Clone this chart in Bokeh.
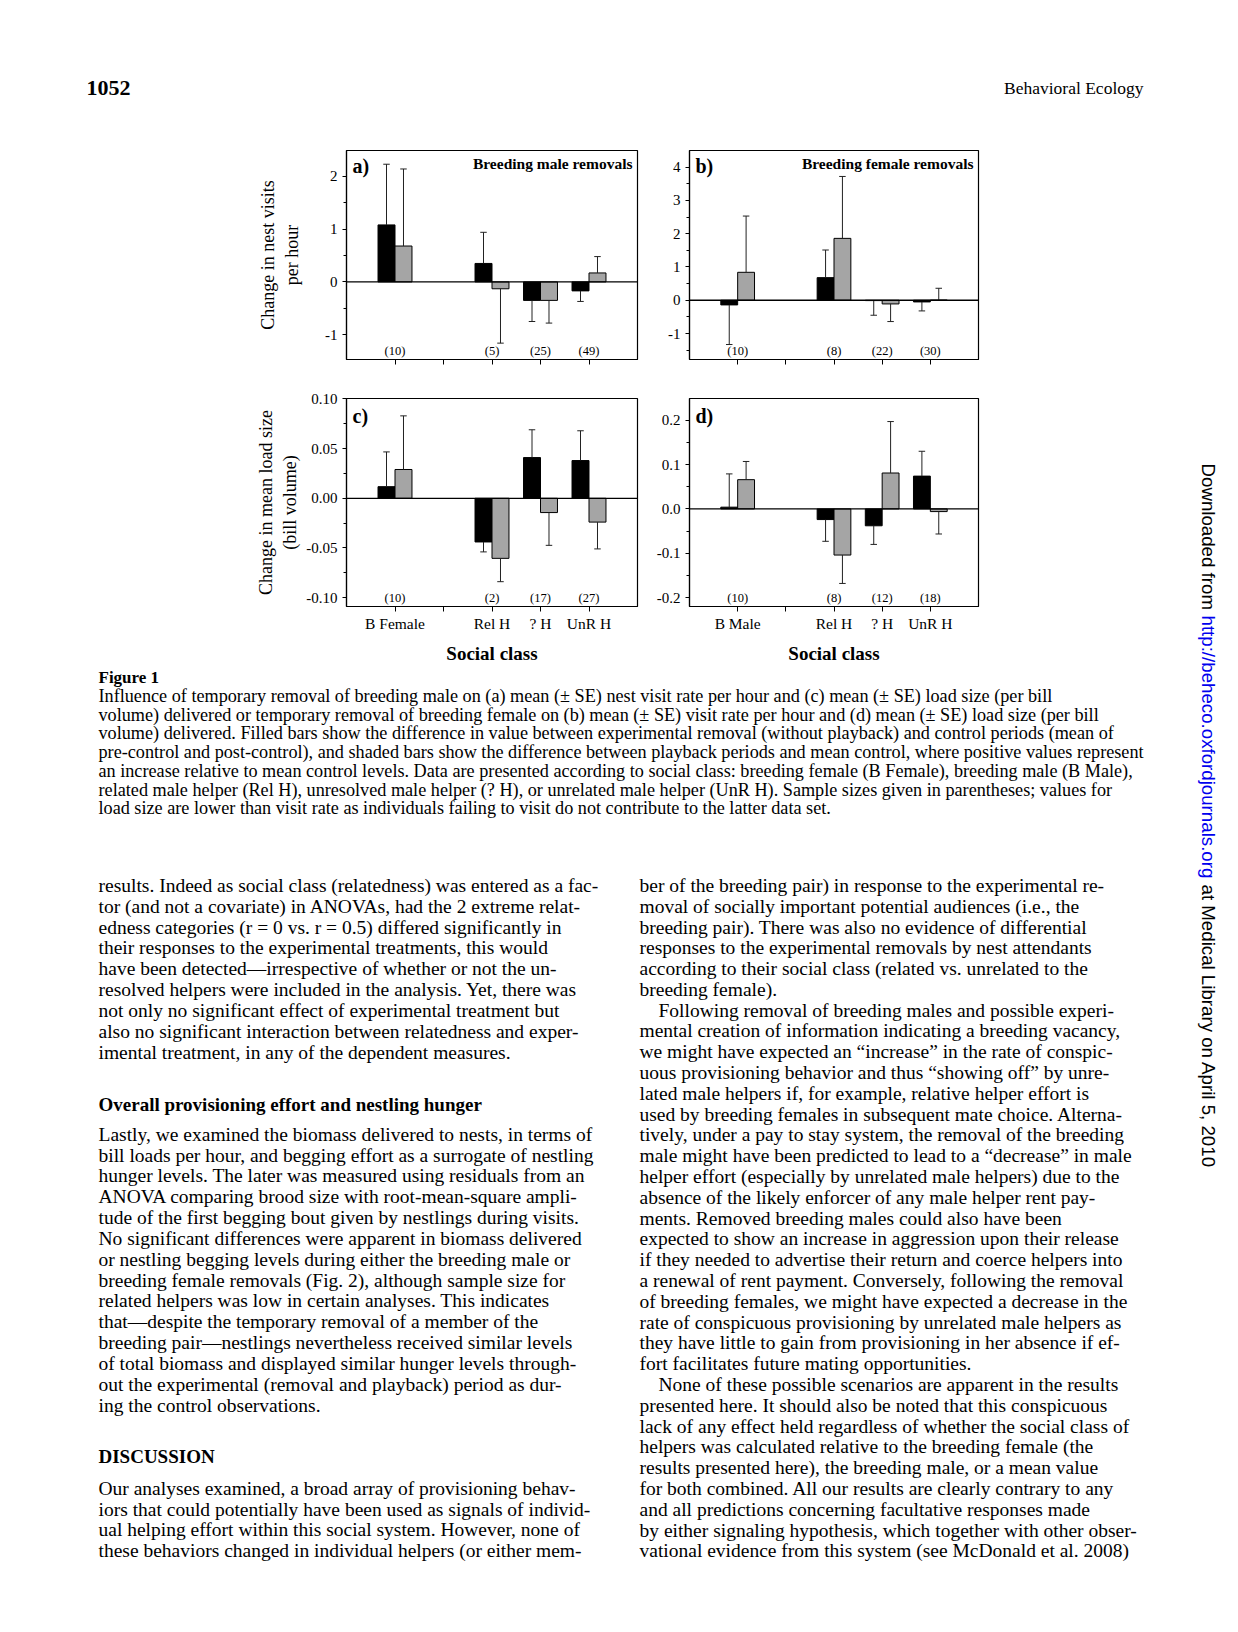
import math
from bokeh.plotting import figure
from bokeh.layouts import row, column
from bokeh.models import Range1d, FixedTicker, NumeralTickFormatter, Span
from bokeh.core.properties import value
from bokeh.embed import file_html
from bokeh.resources import INLINE

SERIF = "Liberation Serif"
SANS = "Liberation Sans"
GRAY = "#a5a5a5"

# ---------------------------------------------------------------- data
classes_male_removal = ["B Female", "Rel H", "? H", "UnR H"]
classes_female_removal = ["B Male", "Rel H", "? H", "UnR H"]

# (a) change in nest visits per hour - breeding male removals
a_removal = [1.08, 0.35, -0.35, -0.17]
a_removal_se = [1.15, 0.59, 0.40, 0.20]
a_playback = [0.68, -0.13, -0.35, 0.17]
a_playback_se = [1.46, 1.03, 0.43, 0.31]
a_n = [10, 5, 25, 49]

# (b) change in nest visits per hour - breeding female removals
b_removal = [-0.14, 0.68, -0.01, -0.05]
b_removal_se = [1.19, 0.83, 0.44, 0.27]
b_playback = [0.84, 1.86, -0.11, 0.005]
b_playback_se = [1.69, 1.86, 0.53, 0.355]
b_n = [10, 8, 22, 30]

# (c) change in mean load size - breeding male removals
c_removal = [0.0117, -0.044, 0.041, 0.038]
c_removal_se = [0.035, 0.010, 0.028, 0.030]
c_playback = [0.029, -0.0605, -0.0144, -0.024]
c_playback_se = [0.054, 0.0235, 0.033, 0.027]
c_n = [10, 2, 17, 27]

# (d) change in mean load size - breeding female removals
d_removal = [0.004, -0.024, -0.038, 0.074]
d_removal_se = [0.075, 0.049, 0.042, 0.056]
d_playback = [0.066, -0.104, 0.081, -0.006]
d_playback_se = [0.041, 0.064, 0.116, 0.0505]
d_n = [10, 8, 12, 18]

# ---------------------------------------------------------------- page text
header_left = "1052"
header_right = "Behavioral Ecology"
caption_title = "Figure 1"
caption_lines = [
    "Influence of temporary removal of breeding male on (a) mean (\u00b1 SE) nest visit rate per hour and (c) mean (\u00b1 SE) load size (per bill",
    "volume) delivered or temporary removal of breeding female on (b) mean (\u00b1 SE) visit rate per hour and (d) mean (\u00b1 SE) load size (per bill",
    "volume) delivered. Filled bars show the difference in value between experimental removal (without playback) and control periods (mean of",
    "pre-control and post-control), and shaded bars show the difference between playback periods and mean control, where positive values represent",
    "an increase relative to mean control levels. Data are presented according to social class: breeding female (B Female), breeding male (B Male),",
    "related male helper (Rel H), unresolved male helper (? H), or unrelated male helper (UnR H). Sample sizes given in parentheses; values for",
    "load size are lower than visit rate as individuals failing to visit do not contribute to the latter data set.",
]
left_block1 = [
    "results. Indeed as social class (relatedness) was entered as a fac-",
    "tor (and not a covariate) in ANOVAs, had the 2 extreme relat-",
    "edness categories (r = 0 vs. r = 0.5) differed significantly in",
    "their responses to the experimental treatments, this would",
    "have been detected\u2014irrespective of whether or not the un-",
    "resolved helpers were included in the analysis. Yet, there was",
    "not only no significant effect of experimental treatment but",
    "also no significant interaction between relatedness and exper-",
    "imental treatment, in any of the dependent measures.",
]
heading1 = "Overall provisioning effort and nestling hunger"
left_block2 = [
    "Lastly, we examined the biomass delivered to nests, in terms of",
    "bill loads per hour, and begging effort as a surrogate of nestling",
    "hunger levels. The later was measured using residuals from an",
    "ANOVA comparing brood size with root-mean-square ampli-",
    "tude of the first begging bout given by nestlings during visits.",
    "No significant differences were apparent in biomass delivered",
    "or nestling begging levels during either the breeding male or",
    "breeding female removals (Fig. 2), although sample size for",
    "related helpers was low in certain analyses. This indicates",
    "that\u2014despite the temporary removal of a member of the",
    "breeding pair\u2014nestlings nevertheless received similar levels",
    "of total biomass and displayed similar hunger levels through-",
    "out the experimental (removal and playback) period as dur-",
    "ing the control observations.",
]
heading2 = "DISCUSSION"
left_block3 = [
    "Our analyses examined, a broad array of provisioning behav-",
    "iors that could potentially have been used as signals of individ-",
    "ual helping effort within this social system. However, none of",
    "these behaviors changed in individual helpers (or either mem-",
]
right_lines = [
    "ber of the breeding pair) in response to the experimental re-",
    "moval of socially important potential audiences (i.e., the",
    "breeding pair). There was also no evidence of differential",
    "responses to the experimental removals by nest attendants",
    "according to their social class (related vs. unrelated to the",
    "breeding female).",
    "Following removal of breeding males and possible experi-",
    "mental creation of information indicating a breeding vacancy,",
    "we might have expected an \u201cincrease\u201d in the rate of conspic-",
    "uous provisioning behavior and thus \u201cshowing off\u201d by unre-",
    "lated male helpers if, for example, relative helper effort is",
    "used by breeding females in subsequent mate choice. Alterna-",
    "tively, under a pay to stay system, the removal of the breeding",
    "male might have been predicted to lead to a \u201cdecrease\u201d in male",
    "helper effort (especially by unrelated male helpers) due to the",
    "absence of the likely enforcer of any male helper rent pay-",
    "ments. Removed breeding males could also have been",
    "expected to show an increase in aggression upon their release",
    "if they needed to advertise their return and coerce helpers into",
    "a renewal of rent payment. Conversely, following the removal",
    "of breeding females, we might have expected a decrease in the",
    "rate of conspicuous provisioning by unrelated male helpers as",
    "they have little to gain from provisioning in her absence if ef-",
    "fort facilitates future mating opportunities.",
    "None of these possible scenarios are apparent in the results",
    "presented here. It should also be noted that this conspicuous",
    "lack of any effect held regardless of whether the social class of",
    "helpers was calculated relative to the breeding female (the",
    "results presented here), the breeding male, or a mean value",
    "for both combined. All our results are clearly contrary to any",
    "and all predictions concerning facultative responses made",
    "by either signaling hypothesis, which together with other obser-",
    "vational evidence from this system (see McDonald et al. 2008)",
]
right_indented = [6, 24]
side_pieces = ["Downloaded from", "http://beheco.oxfordjournals.org", "at Medical Library on April 5, 2010"]

# ---------------------------------------------------------------- panels
SLOTS = [0, 2, 3, 4]      # x slot of each social class (gap after the breeding bird)
BW = 0.35                 # bar width in slot units


def style_axis(ax, size="15px"):
    ax.axis_line_color = "black"
    ax.axis_line_width = 1.2
    ax.major_tick_line_color = "black"
    ax.minor_tick_line_color = "black"
    ax.major_tick_in = 0
    ax.minor_tick_in = 0
    ax.major_label_text_font = SERIF
    ax.major_label_text_font_size = size
    ax.major_label_text_color = "black"
    ax.axis_label_text_font = SERIF
    ax.axis_label_text_color = "black"
    ax.axis_label_text_font_style = "normal"


def panel(letter, title, classes, rem, rem_se, pb, pb_se, n, ylo, yhi,
          major, minor, fmt, ylabel=None, ylabel_standoff=5, xlabels=False,
          left=346, right=11, fw=291, fh=209, top=20, bottom=19, letter_dy=15.5):
    p = figure(frame_width=fw, frame_height=fh,
               min_border_left=left, min_border_right=right,
               min_border_top=top, min_border_bottom=bottom,
               x_range=Range1d(-1, 5), y_range=Range1d(ylo, yhi),
               output_backend="svg", toolbar_location=None)
    p.xgrid.visible = False
    p.ygrid.visible = False
    p.outline_line_color = "black"
    p.outline_line_width = 1.2
    p.background_fill_color = "white"

    xs_rem = [s - BW / 2 for s in SLOTS]
    xs_pb = [s + BW / 2 for s in SLOTS]
    p.vbar(x=xs_rem, top=rem, bottom=0, width=BW, fill_color="black",
           line_color="black", line_width=1)
    p.vbar(x=xs_pb, top=pb, bottom=0, width=BW, fill_color=GRAY,
           line_color="black", line_width=1)

    for xs, vals, ses in ((xs_rem, rem, rem_se), (xs_pb, pb, pb_se)):
        ends = [v + (s if v >= 0 else -s) for v, s in zip(vals, ses)]
        p.segment(x0=xs, y0=vals, x1=xs, y1=ends, line_color="#222222", line_width=1)
        p.scatter(x=xs, y=ends, marker="dash", size=6.5, line_color="#222222", line_width=1)

    p.add_layout(Span(location=0, dimension="width", line_color="black", line_width=1.3))

    yspan = yhi - ylo
    # sample sizes along the bottom of the frame
    p.text(x=SLOTS, y=[ylo + yspan * 8.5 / fh] * len(SLOTS),
           text=["(%d)" % k for k in n], text_align="center", text_baseline="middle",
           text_font=value(SERIF), text_font_size="12.5px", text_color="black")
    # panel letter and title
    p.text(x=[-1 + 6 * 6.0 / fw], y=[yhi - yspan * letter_dy / fh],
           text=[letter], text_align="left", text_baseline="middle",
           text_font=value(SERIF), text_font_size="20px", text_font_style="bold",
           text_color="black")
    if title:
        p.text(x=[5 - 6 * 5.0 / fw], y=[yhi - yspan * 12.7 / fh], text=[title],
               text_align="right", text_baseline="middle", text_font=value(SERIF),
               text_font_size="15.5px", text_font_style="bold", text_color="black")

    yax = p.yaxis[0]
    xax = p.xaxis[0]
    style_axis(yax)
    style_axis(xax, "15.5px")
    yax.ticker = FixedTicker(ticks=major, minor_ticks=minor)
    yax.major_tick_out = 4
    yax.minor_tick_out = 3
    yax.major_label_standoff = 5
    yax.formatter = NumeralTickFormatter(format=fmt)
    if ylabel:
        yax.axis_label = ylabel
        yax.axis_label_text_font_size = "18px"
        yax.axis_label_standoff = ylabel_standoff

    xax.ticker = FixedTicker(ticks=[0, 1, 2, 3, 4])
    xax.major_tick_out = 5
    xax.minor_tick_out = 0
    if xlabels:
        over = {0: "", 1: "", 2: "", 3: "", 4: ""}
        for s, c in zip(SLOTS, classes):
            over[s] = c
        xax.major_label_overrides = over
        xax.major_label_standoff = 3
        xax.axis_label = "Social class"
        xax.axis_label_text_font_size = "19px"
        xax.axis_label_text_font_style = "bold"
        xax.axis_label_standoff = 8
    else:
        xax.major_label_overrides = {0: "", 1: "", 2: "", 3: "", 4: ""}
        xax.major_label_text_font_size = "0px"
        xax.major_label_standoff = 0
    return p


fa = panel("a)", "Breeding male removals", classes_male_removal,
           a_removal, a_removal_se, a_playback, a_playback_se, a_n,
           -1.47, 2.49, [-1, 0, 1, 2], [-0.5, 0.5, 1.5], "0",
           ylabel="Change in nest visits\nper hour", ylabel_standoff=20)
fb = panel("b)", "Breeding female removals", classes_female_removal,
           b_removal, b_removal_se, b_playback, b_playback_se, b_n,
           -1.78, 4.5, [-1, 0, 1, 2, 3, 4], [-1.5, -0.5, 0.5, 1.5, 2.5, 3.5], "0",
           left=41, right=176, fw=289)
fc = panel("c)", None, classes_male_removal,
           c_removal, c_removal_se, c_playback, c_playback_se, c_n,
           -0.109, 0.1005, [-0.10, -0.05, 0.0, 0.05, 0.10], [-0.075, -0.025, 0.025, 0.075], "0.00",
           ylabel="Change in mean load size\n(bill volume)", ylabel_standoff=3,
           xlabels=True, fh=208, bottom=58, letter_dy=17)
fd = panel("d)", None, classes_female_removal,
           d_removal, d_removal_se, d_playback, d_playback_se, d_n,
           -0.22, 0.249, [-0.2, -0.1, 0.0, 0.1, 0.2], [-0.15, -0.05, 0.05, 0.15], "0.0",
           xlabels=True, left=41, right=176, fw=289, fh=208, bottom=58, letter_dy=17)


# ---------------------------------------------------------------- text figures
def text_fig(x0, y0, w, h):
    f = figure(width=w, height=h, x_range=Range1d(x0, x0 + w), y_range=Range1d(y0 + h, y0),
               output_backend="svg", toolbar_location=None,
               x_axis_location=None, y_axis_location=None, min_border=0)
    f.grid.visible = False
    f.outline_line_color = None
    return f


def put(f, xs, ys, texts, size, bold=False, color="black", align="left", font=SERIF, angle=0):
    f.text(x=xs, y=ys, text=texts, text_font=value(font), text_font_size=size,
           text_font_style="bold" if bold else "normal", text_baseline="middle",
           text_align=align, text_color=color, angle=angle)


K = 1238.0 / 1189.0   # reference layout was measured on the shrunk view

header = text_fig(0, 0, 1154, 130)
put(header, [86], [87.5], [header_left], "22px", bold=True)
put(header, [1143], [87.5], [header_right], "17.5px", align="right")

cap = text_fig(0, 664, 1154, 176)
put(cap, [98], [648 * K], [caption_title], "17px", bold=True)
put(cap, [98] * len(caption_lines), [(666 + 18 * i) * K for i in range(len(caption_lines))],
    caption_lines, "18.2px")

body = text_fig(0, 840, 1154, 784)
LX, RX = 98, 639
BODY = "19.5px"
put(body, [LX] * len(left_block1), [(848 + 20 * i) * K for i in range(len(left_block1))],
    left_block1, BODY)
put(body, [LX], [1058 * K], [heading1], "19px", bold=True)
put(body, [LX] * len(left_block2), [(1087 + 20 * i) * K for i in range(len(left_block2))],
    left_block2, BODY)
put(body, [LX], [1396 * K], [heading2], "19px", bold=True)
put(body, [LX] * len(left_block3), [(1427 + 20 * i) * K for i in range(len(left_block3))],
    left_block3, BODY)
put(body, [RX + (19 if i in right_indented else 0) for i in range(len(right_lines))],
    [(848 + 19.97 * i) * K for i in range(len(right_lines))], right_lines, BODY)

strip = text_fig(1154, 0, 84, 1624)
side_y = [463, 615, 884]
side_col = ["black", "#0000ee", "black"]
for t, yy, cc in zip(side_pieces, side_y, side_col):
    put(strip, [1208], [yy], [t], "18.7px", color=cc, font=SANS, angle=-math.pi / 2)

left_col = column(header, row(fa, fb), row(fc, fd), cap, body)
page = row(left_col, strip)

open("out.html", "w").write(file_html(page, INLINE, title="Figure 1"))
